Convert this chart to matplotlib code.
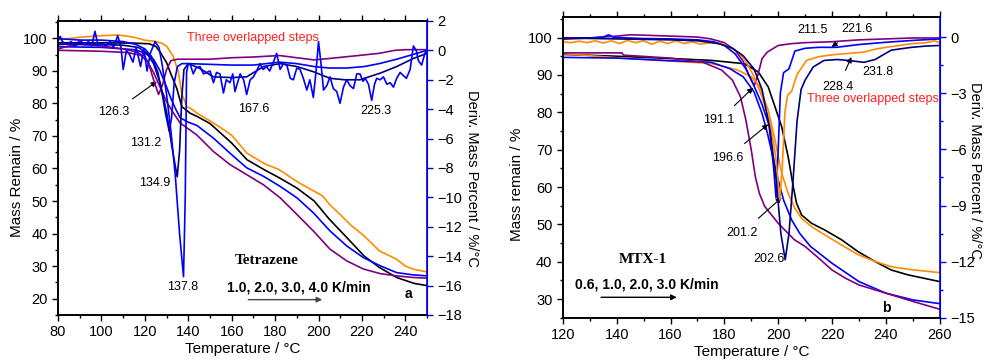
import numpy as np
import matplotlib
matplotlib.use("Agg")
import matplotlib.pyplot as plt
from matplotlib.ticker import MultipleLocator

plt.rcParams['font.family'] = ['Liberation Sans', 'DejaVu Sans']
plt.rcParams['font.size'] = 10
plt.rcParams['lines.solid_joinstyle'] = 'round'

ORANGE = '#ff8c00'
BLUE = '#0000ff'
NAVY = '#000080'
PURPLE = '#800080'
BLACK = '#000000'

# ---------------- panel a : Tetrazene ----------------
# TG curves (left axis, mass remain %)
a_tg_x_orange = [80, 90, 100, 108, 115, 120, 125, 128, 130, 133, 135.4, 137, 139.3, 141, 144, 150, 155, 160, 167, 175, 182, 190, 198, 202, 205, 210, 215, 221, 228, 236, 240, 244, 250]
a_tg_y_orange = [99.5, 100.3, 100.8, 101.0, 100.3, 99.4, 99.0, 98.4, 97.6, 94.5, 89.7, 83.0, 79.0, 78.5, 77.0, 74.6, 72.5, 70.2, 64.7, 61.5, 59.6, 56.0, 53.0, 51.5, 49.0, 45.8, 42.5, 39.3, 34.7, 32.1, 30.0, 29.0, 28.2]
a_tg_x_black = [80, 100, 115, 122, 125, 127, 130, 132, 134.7, 137, 140.8, 144, 150, 155, 160, 167, 175, 182, 190, 198, 205, 213, 221, 228, 236, 244, 250]
a_tg_y_black = [98.6, 98.6, 98.5, 98.3, 97.5, 95.8, 92.5, 89.0, 84.6, 79.0, 77.0, 76.0, 73.8, 70.8, 67.8, 62.7, 59.6, 57.1, 54.0, 50.0, 44.4, 38.8, 33.1, 29.6, 26.5, 24.7, 24.0]
a_tg_x_blue = [80, 100, 115, 120, 124, 127, 130, 132, 134, 136.2, 140, 144, 151.6, 159.2, 166.9, 174.6, 182.3, 190, 197.6, 205.3, 213, 220.7, 228.4, 236, 243.7, 250]
a_tg_y_blue = [97.4, 97.2, 96.5, 95.5, 93.5, 90.0, 85.0, 81.5, 78.5, 75.6, 74.2, 73.2, 69.3, 64.7, 60.2, 57.6, 54.5, 51.0, 46.4, 40.8, 36.2, 32.6, 30.1, 28.0, 27.3, 27.0]
a_tg_x_purple = [80, 100, 112, 118, 121, 124, 127, 130, 133, 136.2, 143.9, 151.6, 159.2, 166.9, 174.6, 182.3, 190, 197.6, 205.3, 213, 220.7, 228.4, 236, 243.7, 250]
a_tg_y_purple = [96.3, 96.0, 95.6, 94.8, 93.0, 89.5, 85.0, 80.5, 77.2, 74.0, 70.3, 65.2, 61.2, 58.1, 55.0, 51.0, 45.9, 40.8, 35.2, 31.6, 29.1, 27.7, 27.0, 26.5, 26.3]

# DTG curves (right axis, %/degC)
a_dtg_x_purple = [80, 85, 90, 100, 110, 116, 120, 122, 124, 126.3, 128, 130, 132, 135, 140, 150, 160, 170, 182, 190, 198, 205, 215, 228, 235, 240, 250]
a_dtg_y_purple = [0.1, 0.3, 0.4, 0.3, 0.1, -0.1, -0.4, -1.0, -2.0, -3.0, -2.4, -1.3, -0.7, -0.6, -0.6, -0.6, -0.5, -0.45, -0.35, -0.5, -0.65, -0.55, -0.4, -0.2, 0.0, 0.05, 0.05]
a_dtg_x_blue2 = [80, 90, 100, 110, 116, 120, 123, 126, 128, 129.5, 131.2, 132.3, 133.5, 135, 137, 140, 150, 160, 170, 182, 190, 198, 205, 213, 221, 228, 236, 243, 250]
a_dtg_y_blue2 = [0.8, 0.7, 0.7, 0.6, 0.4, 0.1, -0.4, -1.5, -3.0, -4.3, -5.5, -4.6, -2.2, -1.1, -0.9, -0.9, -0.95, -1.0, -1.0, -0.8, -0.9, -1.1, -1.2, -1.2, -1.1, -0.9, -0.6, -0.3, 0.0]
a_dtg_x_navy = [80, 90, 100, 110, 117, 121, 124, 127, 130, 132.5, 134.9, 136, 137, 138, 140, 145, 151.6, 160, 166.9, 174.6, 182.3, 190, 197.6, 205.3, 212, 219.1, 228.4, 236, 243.7, 250]
a_dtg_y_navy = [0.4, 0.45, 0.4, 0.35, 0.2, -0.2, -0.9, -2.2, -4.2, -6.6, -8.6, -6.8, -3.2, -1.3, -0.9, -1.2, -1.8, -1.85, -1.8, -1.1, -0.9, -1.1, -1.45, -1.9, -2.0, -2.0, -1.55, -1.1, -0.55, -0.2]
a_dtg_x_blue = [80, 81, 82, 84, 86, 88, 90, 92, 94, 95.5, 97, 98.5, 100, 102, 104, 105.5, 107.5, 109, 110, 111.5, 113, 114.5, 116, 118, 119.5, 121, 122.5, 124.7, 126.5, 128, 130, 132, 134, 136, 137.8, 138.6, 139.2, 140, 141, 142.3, 143.5, 145.4, 147, 148.5, 150, 151.6, 153, 154.6, 156.2, 157.5, 159.2, 160.5, 161.5, 163.9, 165.5, 166.9, 168.5, 170, 171.5, 173, 174.5, 176, 177.5, 179.2, 180.7, 182.3, 183.8, 185.4, 187, 188.4, 190, 191.5, 193, 194.6, 196, 197.6, 198.8, 200, 201.2, 202.3, 203.8, 205.3, 206.8, 208.4, 209.9, 211.5, 213, 214.5, 216.1, 217.6, 219.1, 220.5, 221.5, 223, 224.5, 225.8, 226.8, 228.4, 229.9, 231.5, 233, 234.5, 236, 237.6, 239, 240.5, 242.2, 243.7, 245, 246, 247.5, 249, 250]
a_dtg_y_blue = [0.7, 0.95, 0.6, 0.4, 0.6, 0.3, 0.7, 0.4, 0.6, 0.3, 1.3, 0.3, 0.5, 0.3, 0.6, 0.2, 1.0, 0.2, -1.3, 0.0, -0.3, -0.8, 0.2, -1.1, 0.1, -1.4, -0.2, 0.6, 0.2, -1.0, -3.0, -5.5, -8.5, -12.5, -15.4, -10.0, -1.5, -0.9, -1.0, -1.6, -1.2, -1.1, -1.6, -1.5, -1.4, -2.2, -1.5, -1.6, -2.9, -2.0, -2.2, -1.6, -2.8, -1.6, -2.0, -3.0, -2.0, -1.8, -1.4, -0.9, -1.3, -1.1, -1.4, -0.8, -0.2, -1.3, -0.9, -1.0, -1.9, -2.0, -1.2, -1.3, -1.9, -2.7, -2.0, -3.2, -1.5, 0.6, -1.0, -2.7, -2.4, -1.8, -2.6, -2.8, -3.6, -2.5, -2.0, -2.4, -2.6, -1.6, -1.6, -2.1, -1.9, -2.3, -3.4, -2.3, -1.9, -2.0, -1.8, -2.3, -2.2, -2.5, -1.9, -1.5, -1.7, -1.9, -1.3, 0.3, 0.0, -0.7, -1.0, -0.2, 0.0]

a_peaks = ['126.3', '131.2', '134.9', '137.8', '167.6', '225.3']

# ---------------- panel b : MTX-1 ----------------
b_tg_x_black = [120, 140, 160, 175, 187.5, 192.6, 196.3, 198.8, 201.3, 203.7, 205.6, 206.8, 208.7, 212.4, 217.3, 223.5, 229.7, 235.9, 242, 248.2, 260]
b_tg_y_black = [95.5, 95.0, 94.4, 93.9, 93.0, 90.8, 86.8, 81.5, 76.1, 68.1, 60.1, 55.7, 52.5, 50.3, 48.5, 45.9, 42.7, 40.1, 37.8, 36.5, 34.7]
b_tg_x_orange = [120, 140, 160, 175, 185, 190, 193, 196.3, 198.8, 201.3, 203.7, 206.2, 208.7, 212.4, 217.3, 223.5, 229.7, 235.9, 242, 248.2, 260]
b_tg_y_orange = [95.7, 94.6, 93.7, 93.1, 91.3, 89.5, 87.0, 80.6, 72.6, 63.7, 58.3, 54.3, 51.6, 49.4, 47.2, 44.5, 41.9, 40.1, 38.7, 38.0, 37.1]
b_tg_x_blue = [120, 140, 160, 175, 182, 187, 191, 194, 196, 198, 200, 202, 205, 208, 212, 220, 230, 240, 250, 260]
b_tg_y_blue = [94.7, 94.5, 93.8, 93.4, 91.7, 89.5, 85.5, 79.7, 74.4, 68.1, 61.9, 56.5, 51.2, 47.6, 44.1, 39.6, 34.7, 31.6, 29.8, 28.8]
b_tg_x_purple = [120, 142, 142.5, 160, 172, 179, 183, 186, 188, 190, 191.5, 193, 195, 198, 200, 203, 206, 210, 215, 220, 225, 230, 240, 250, 260]
b_tg_y_purple = [95.9, 95.9, 95.3, 94.5, 93.4, 91.3, 88.6, 84.1, 77.9, 69.9, 62.8, 58.3, 54.8, 52.1, 50.3, 48.1, 45.9, 44.1, 41.0, 37.8, 35.6, 33.8, 31.6, 29.4, 27.3]

b_dtg_x_purple = [120, 130, 140, 145, 150, 160, 170, 175, 180, 184, 187, 189, 191.1, 192.5, 194, 196, 200, 205, 210, 220, 230, 240, 250, 260]
b_dtg_y_purple = [-0.12, -0.05, 0.05, 0.12, 0.1, 0.05, 0.0, -0.1, -0.3, -0.7, -1.3, -2.0, -2.6, -2.0, -1.15, -0.8, -0.45, -0.35, -0.3, -0.25, -0.15, -0.1, -0.05, -0.05]
b_dtg_x_blue = [120, 130, 135, 137, 139, 150, 160, 170, 176, 180, 184, 188, 191, 194, 196.6, 198.3, 199.2, 200, 200.8, 202, 204, 206.2, 210, 215, 221.6, 230, 240, 250, 260]
b_dtg_y_blue = [-0.05, -0.05, 0.0, 0.12, -0.02, -0.08, -0.1, -0.15, -0.25, -0.45, -0.9, -1.7, -2.6, -3.6, -4.7, -7.0, -8.6, -6.0, -3.0, -1.9, -1.7, -0.75, -0.6, -0.55, -0.55, -0.4, -0.28, -0.18, -0.1]
b_dtg_x_orange = [120, 123, 126, 129, 132, 135, 138, 141, 144, 147, 150, 153, 156, 159, 162, 165, 168, 171, 175, 180, 185, 188, 191, 194, 197, 199, 200.6, 201.5, 202.5, 203.5, 205, 207, 210.5, 215, 220, 224, 228.4, 232, 236, 240, 245, 250, 255, 258, 260]
b_dtg_y_orange = [-0.25, -0.3, -0.22, -0.3, -0.2, -0.32, -0.2, -0.35, -0.18, -0.3, -0.2, -0.38, -0.22, -0.35, -0.2, -0.35, -0.25, -0.38, -0.3, -0.4, -0.8, -1.3, -2.1, -3.2, -4.6, -6.3, -8.7, -7.0, -4.0, -3.1, -2.9, -2.0, -1.25, -1.05, -0.95, -0.9, -0.85, -0.8, -0.65, -0.55, -0.45, -0.35, -0.3, -0.2, -0.3]
b_dtg_x_navy = [120, 140, 160, 170, 178, 183, 187, 191, 194, 197, 199.3, 201, 202.6, 204, 205.5, 207, 208.5, 210, 213, 217, 222, 226, 231.8, 236, 242, 249.5, 255, 260]
b_dtg_y_navy = [-0.05, -0.1, -0.15, -0.2, -0.35, -0.6, -1.0, -1.7, -2.8, -5.0, -7.7, -10.5, -11.9, -10.5, -7.7, -4.5, -2.8, -2.3, -1.6, -1.25, -1.2, -1.25, -1.35, -1.2, -0.7, -0.55, -0.48, -0.45]

b_peaks = ['191.1', '196.6', '201.2', '202.6', '211.5', '221.6', '228.4', '231.8']


fig = plt.figure(figsize=(9.84, 3.62), dpi=100)
ax_a = fig.add_axes([0.059, 0.130, 0.375, 0.812])
ax_b = fig.add_axes([0.572, 0.122, 0.383, 0.831])


def style_axes(ax, ax2, xmaj, xmin, ymaj, ymin, y2maj, y2min):
    ax.xaxis.set_major_locator(MultipleLocator(xmaj))
    ax.xaxis.set_minor_locator(MultipleLocator(xmin))
    ax.yaxis.set_major_locator(MultipleLocator(ymaj))
    ax.yaxis.set_minor_locator(MultipleLocator(ymin))
    ax.tick_params(which='both', direction='out', top=True, labelsize=10.5)
    ax.tick_params(which='major', length=4, width=1)
    ax.tick_params(which='minor', length=2.5, width=1)
    ax2.yaxis.set_major_locator(MultipleLocator(y2maj))
    if y2min:
        ax2.yaxis.set_minor_locator(MultipleLocator(y2min))
    ax2.tick_params(which='both', direction='out', colors=BLUE, labelcolor='black', labelsize=10.5)
    ax2.tick_params(which='major', length=4, width=1)
    ax2.tick_params(which='minor', length=2.5, width=1)
    for sp in ['left', 'top', 'bottom']:
        ax.spines[sp].set_linewidth(1.2)
        ax2.spines[sp].set_linewidth(1.2)
    ax2.spines['right'].set_color(BLUE)
    ax2.spines['right'].set_linewidth(1.2)


lw = 1.2

# panel a
ax = ax_a
ax.plot(a_tg_x_orange, a_tg_y_orange, color=ORANGE, lw=lw)
ax.plot(a_tg_x_black, a_tg_y_black, color=BLACK, lw=lw)
ax.plot(a_tg_x_blue, a_tg_y_blue, color=BLUE, lw=lw)
ax.plot(a_tg_x_purple, a_tg_y_purple, color=PURPLE, lw=lw)
ax.set_xlim(80, 250)
ax.set_ylim(15, 105.3)
ax.set_xlabel('Temperature / °C', fontsize=11, labelpad=2)
ax2 = ax.twinx()
ax2.plot(a_dtg_x_purple, a_dtg_y_purple, color=PURPLE, lw=lw)
ax2.plot(a_dtg_x_blue2, a_dtg_y_blue2, color=BLUE, lw=lw)
ax2.plot(a_dtg_x_navy, a_dtg_y_navy, color=NAVY, lw=lw)
ax2.plot(a_dtg_x_blue, a_dtg_y_blue, color=BLUE, lw=lw)
ax2.set_ylim(-18, 2)
style_axes(ax, ax2, 20, 10, 10, 5, 2, None)
fig.text(17 / 984, 1 - 177 / 362, 'Mass Remain / %', fontsize=11, rotation=90, ha='center', va='center')
fig.text(472 / 984, 1 - 178 / 362, 'Deriv. Mass Percent / %/°C', fontsize=10.5, rotation=270,
         ha='center', va='center')

ax.text(170, 100.1, 'Three overlapped steps', color='#ff2020', fontsize=9, ha='center', va='center')
ax.annotate(a_peaks[0], xy=(125.5, 86.7), xytext=(105.5, 77.2), fontsize=9, ha='center', va='center',
            arrowprops=dict(arrowstyle='-|>', color='black', lw=0.8, shrinkA=6, shrinkB=0, mutation_scale=8))
ax.text(120.6, 67.8, a_peaks[1], fontsize=9, ha='center', va='center')
ax.text(124.4, 55.4, a_peaks[2], fontsize=9, ha='center', va='center')
ax.text(137.5, 23.7, a_peaks[3], fontsize=9, ha='center', va='center')
ax.text(170, 78.3, a_peaks[4], fontsize=9, ha='center', va='center')
ax.text(226.5, 77.5, a_peaks[5], fontsize=9, ha='center', va='center')
ax.text(176.3, 31.6, 'Tetrazene', fontsize=11, fontweight='bold', family=['Liberation Serif', 'DejaVu Serif'],
        ha='center', va='center')
ax.text(191, 23.3, '1.0, 2.0, 3.0, 4.0 K/min', fontsize=10, fontweight='bold', ha='center', va='center')
ax.annotate('', xy=(201.7, 19.7), xytext=(167.6, 19.7),
            arrowprops=dict(arrowstyle='-|>', color='#444444', lw=1, mutation_scale=8, shrinkA=0, shrinkB=0))
ax.text(241.3, 21.5, 'a', fontsize=10, fontweight='bold', ha='center', va='center')

# panel b
ax = ax_b
ax.plot(b_tg_x_black, b_tg_y_black, color=BLACK, lw=lw)
ax.plot(b_tg_x_orange, b_tg_y_orange, color=ORANGE, lw=lw)
ax.plot(b_tg_x_blue, b_tg_y_blue, color=BLUE, lw=lw)
ax.plot(b_tg_x_purple, b_tg_y_purple, color=PURPLE, lw=lw)
ax.set_xlim(120, 260)
ax.set_ylim(25, 105.5)
ax.set_xlabel('Temperature / °C', fontsize=11, labelpad=2)
ax2 = ax.twinx()
ax2.plot(b_dtg_x_purple, b_dtg_y_purple, color=PURPLE, lw=lw)
ax2.plot(b_dtg_x_blue, b_dtg_y_blue, color=BLUE, lw=lw)
ax2.plot(b_dtg_x_orange, b_dtg_y_orange, color=ORANGE, lw=lw)
ax2.plot(b_dtg_x_navy, b_dtg_y_navy, color=NAVY, lw=lw)
ax2.set_ylim(-15, 1.07)
style_axes(ax, ax2, 20, 10, 10, 5, 3, 1.5)
fig.text(517 / 984, 1 - 184 / 362, 'Mass remain / %', fontsize=11, rotation=90, ha='center', va='center')
fig.text(975 / 984, 1 - 170 / 362, 'Deriv. Mass Percent / %/°C', fontsize=10.5, rotation=270,
         ha='center', va='center')

arrow_kw = dict(arrowstyle='-|>', color='black', lw=0.8, shrinkA=6, shrinkB=0, mutation_scale=8)
ax.annotate(b_peaks[0], xy=(190.7, 86.6), xytext=(178.1, 77.9), fontsize=9, ha='center', va='center', arrowprops=arrow_kw)
ax.annotate(b_peaks[1], xy=(196.3, 76.8), xytext=(181.1, 67.9), fontsize=9, ha='center', va='center', arrowprops=arrow_kw)
ax.annotate(b_peaks[2], xy=(201.3, 57.2), xytext=(186.7, 47.8), fontsize=9, ha='center', va='center', arrowprops=arrow_kw)
ax.text(196.6, 40.8, b_peaks[3], fontsize=9, ha='center', va='center')
ax.text(212.8, 102.0, b_peaks[4], fontsize=9, ha='center', va='center')
ax.annotate(b_peaks[5], xy=(219.8, 97.5), xytext=(229.4, 102.2), fontsize=9, ha='center', va='center', arrowprops=arrow_kw)
ax.annotate(b_peaks[6], xy=(227.2, 94.8), xytext=(222.3, 86.8), fontsize=9, ha='center', va='center', arrowprops=arrow_kw)
ax.text(237.1, 90.7, b_peaks[7], fontsize=9, ha='center', va='center')
ax.text(259.6, 83.5, 'Three overlapped steps', color='#ff2020', fontsize=9, ha='right', va='center')
ax.text(149.7, 40.7, 'MTX-1', fontsize=11, fontweight='bold', family=['Liberation Serif', 'DejaVu Serif'],
        ha='center', va='center')
ax.text(151.2, 33.8, '0.6, 1.0, 2.0, 3.0 K/min', fontsize=10, fontweight='bold', ha='center', va='center')
ax.annotate('', xy=(162.3, 30.5), xytext=(134.2, 30.5),
            arrowprops=dict(arrowstyle='-|>', color='black', lw=1, mutation_scale=8, shrinkA=0, shrinkB=0))
ax.text(240, 27.6, 'b', fontsize=10, fontweight='bold', ha='center', va='center')

fig.savefig('out.png', dpi=100)
